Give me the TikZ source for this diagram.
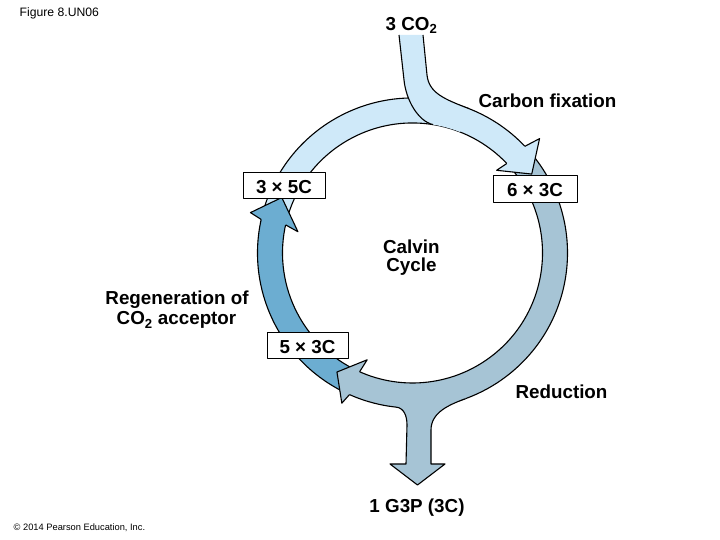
\documentclass[tikz,border=0pt]{standalone}
\usepackage{fontspec}
\setmainfont{Liberation Sans}
\usetikzlibrary{calc}
\definecolor{lightc}{HTML}{CFE9F9}
\definecolor{grayc}{HTML}{A6C4D5}
\definecolor{darkc}{HTML}{6CADD1}
\begin{document}
\begin{tikzpicture}[x=1pt,y=1pt,line join=round,
  edge/.style={line width=1.1pt,draw=black},
  lbl/.style={font=\fontsize{18.8}{19}\selectfont\bfseries,inner sep=0pt},
  box/.style={draw=black,line width=1pt,fill=white,inner sep=0pt,
    font=\fontsize{18.8}{19}\selectfont\bfseries,text height=14.6pt,text depth=0pt}]
\useasboundingbox (0,0) rectangle (720,540);
\coordinate (C) at (412.5,287);
% ring bodies
\begin{scope}[shift={(412.5,287)}]
  % light (top)
  \fill[lightc] (163:155) arc[start angle=163,end angle=42.5,radius=155] -- (42.5:130) arc[start angle=42.5,end angle=163,radius=130] -- cycle;
  \draw[edge] (163:155) arc[start angle=163,end angle=42.5,radius=155];
  \draw[edge] (163:130) arc[start angle=163,end angle=42.5,radius=130];
  % gray (right, bottom)
  \fill[grayc] (39:155) arc[start angle=39,end angle=-115,radius=155] -- (-115:130) arc[start angle=-115,end angle=39,radius=130] -- cycle;
  \draw[edge] (39:155) arc[start angle=39,end angle=-115,radius=155];
  \draw[edge] (39:130) arc[start angle=39,end angle=-115,radius=130];
  % dark (left)
  \fill[darkc] (243:155) arc[start angle=243,end angle=166.5,radius=155] -- (166.5:130) arc[start angle=166.5,end angle=243,radius=130] -- cycle;
  \draw[edge] (243:155) arc[start angle=243,end angle=166.5,radius=155];
  \draw[edge] (243:130) arc[start angle=243,end angle=166.5,radius=130];
\end{scope}
% incoming CO2 stem
\fill[lightc] (399,505) -- (404,460) .. controls (406,440) and (418,419) .. ($(C)+(81:130)$)
  arc[start angle=81,end angle=68.5,radius=130] -- ($(C)+(68.5:155)$)
  .. controls (444,441) and (429,447) .. (427,465) -- (423,505) -- cycle;
\draw[edge] (399,505) -- (404,460) .. controls (406,440) and (418,419) .. ($(C)+(81:130)$);
\draw[edge] (423,505) -- (427,465) .. controls (429,447) and (444,441) .. ($(C)+(68.5:155)$);
% outgoing G3P stem
\fill[grayc] ($(C)+(-96:155)$) .. controls (404,132) and (407,124) .. (407,115) -- (406,76) -- (390,76) -- (417.5,55) -- (445,76) -- (431,76) -- (431,110)
  .. controls (431,128) and (450,135.5) .. ($(C)+(-70:155)$) -- ($(C)+(-70:145)$)
  arc[start angle=-70,end angle=-96,radius=145] -- cycle;
\draw[edge] ($(C)+(-96:155)$) .. controls (404,132) and (407,124) .. (407,115) -- (406,76) -- (390,76) -- (417.5,55) -- (445,76) -- (431,76) -- (431,110)
  .. controls (431,128) and (450,135.5) .. ($(C)+(-70:155)$);
% arrow heads
\begin{scope}[shift={(412.5,287)}]
  \fill[lightc] (43.5:155) -- (42:171) -- (33.5:143) -- (44.5:118) -- (43.5:130) -- cycle;
  \draw[edge] (43.5:155) -- (42:171) -- (33.5:143) -- (44.5:118) -- (43.5:130);
  \fill[grayc] (-114:155) -- (-115.2:166) -- (-122.4:141) -- (-113:116) -- (-114:130) -- cycle;
  \draw[edge] (-114:155) -- (-115.2:166) -- (-122.4:141) -- (-113:116) -- (-114:130);
  \fill[darkc] (167.5:155) -- (166:167) -- (157:142) -- (169.5:116.5) -- (167.5:130) -- cycle;
  \draw[edge] (167.5:155) -- (166:167) -- (157:142) -- (169.5:116.5) -- (167.5:130);
\end{scope}
% boxes
\node[box,minimum width=82pt,minimum height=26pt] (b35) at (284,354) {3 × 5C};
\node[box,minimum width=84pt,minimum height=27pt] (b63) at (535,350.5) {6 × 3C};
\node[box,minimum width=81pt,minimum height=26pt] (b53) at (307.5,194) {5 × 3C};
% labels
\node[lbl,anchor=base] (co2) at (411.5,509.5) {3 CO\textsubscript{2}};
\node[lbl,anchor=base] (fix) at (547.5,432) {Carbon fixation};
\node[lbl,anchor=base] (calvin) at (411.3,286.7) {Calvin};
\node[lbl,anchor=base] (cycle) at (411.5,268) {Cycle};
\node[lbl,anchor=base] (regen) at (177,235) {Regeneration of};
\node[lbl,anchor=base] (acc) at (176.5,215) {CO\textsubscript{2} acceptor};
\node[lbl,anchor=base] (red) at (561.5,141.7) {Reduction};
\node[lbl,anchor=base] (g3p) at (417,27.7) {1 G3P (3C)};
\node[font=\fontsize{12.2}{13}\selectfont,anchor=base west,inner sep=0pt] (fig) at (19.5,523.3) {Figure 8.UN06};
\node[font=\fontsize{9.3}{10}\selectfont,anchor=base west,inner sep=0pt] (copy) at (13.5,9.5) {© 2014 Pearson Education, Inc.};
\end{tikzpicture}
\end{document}
